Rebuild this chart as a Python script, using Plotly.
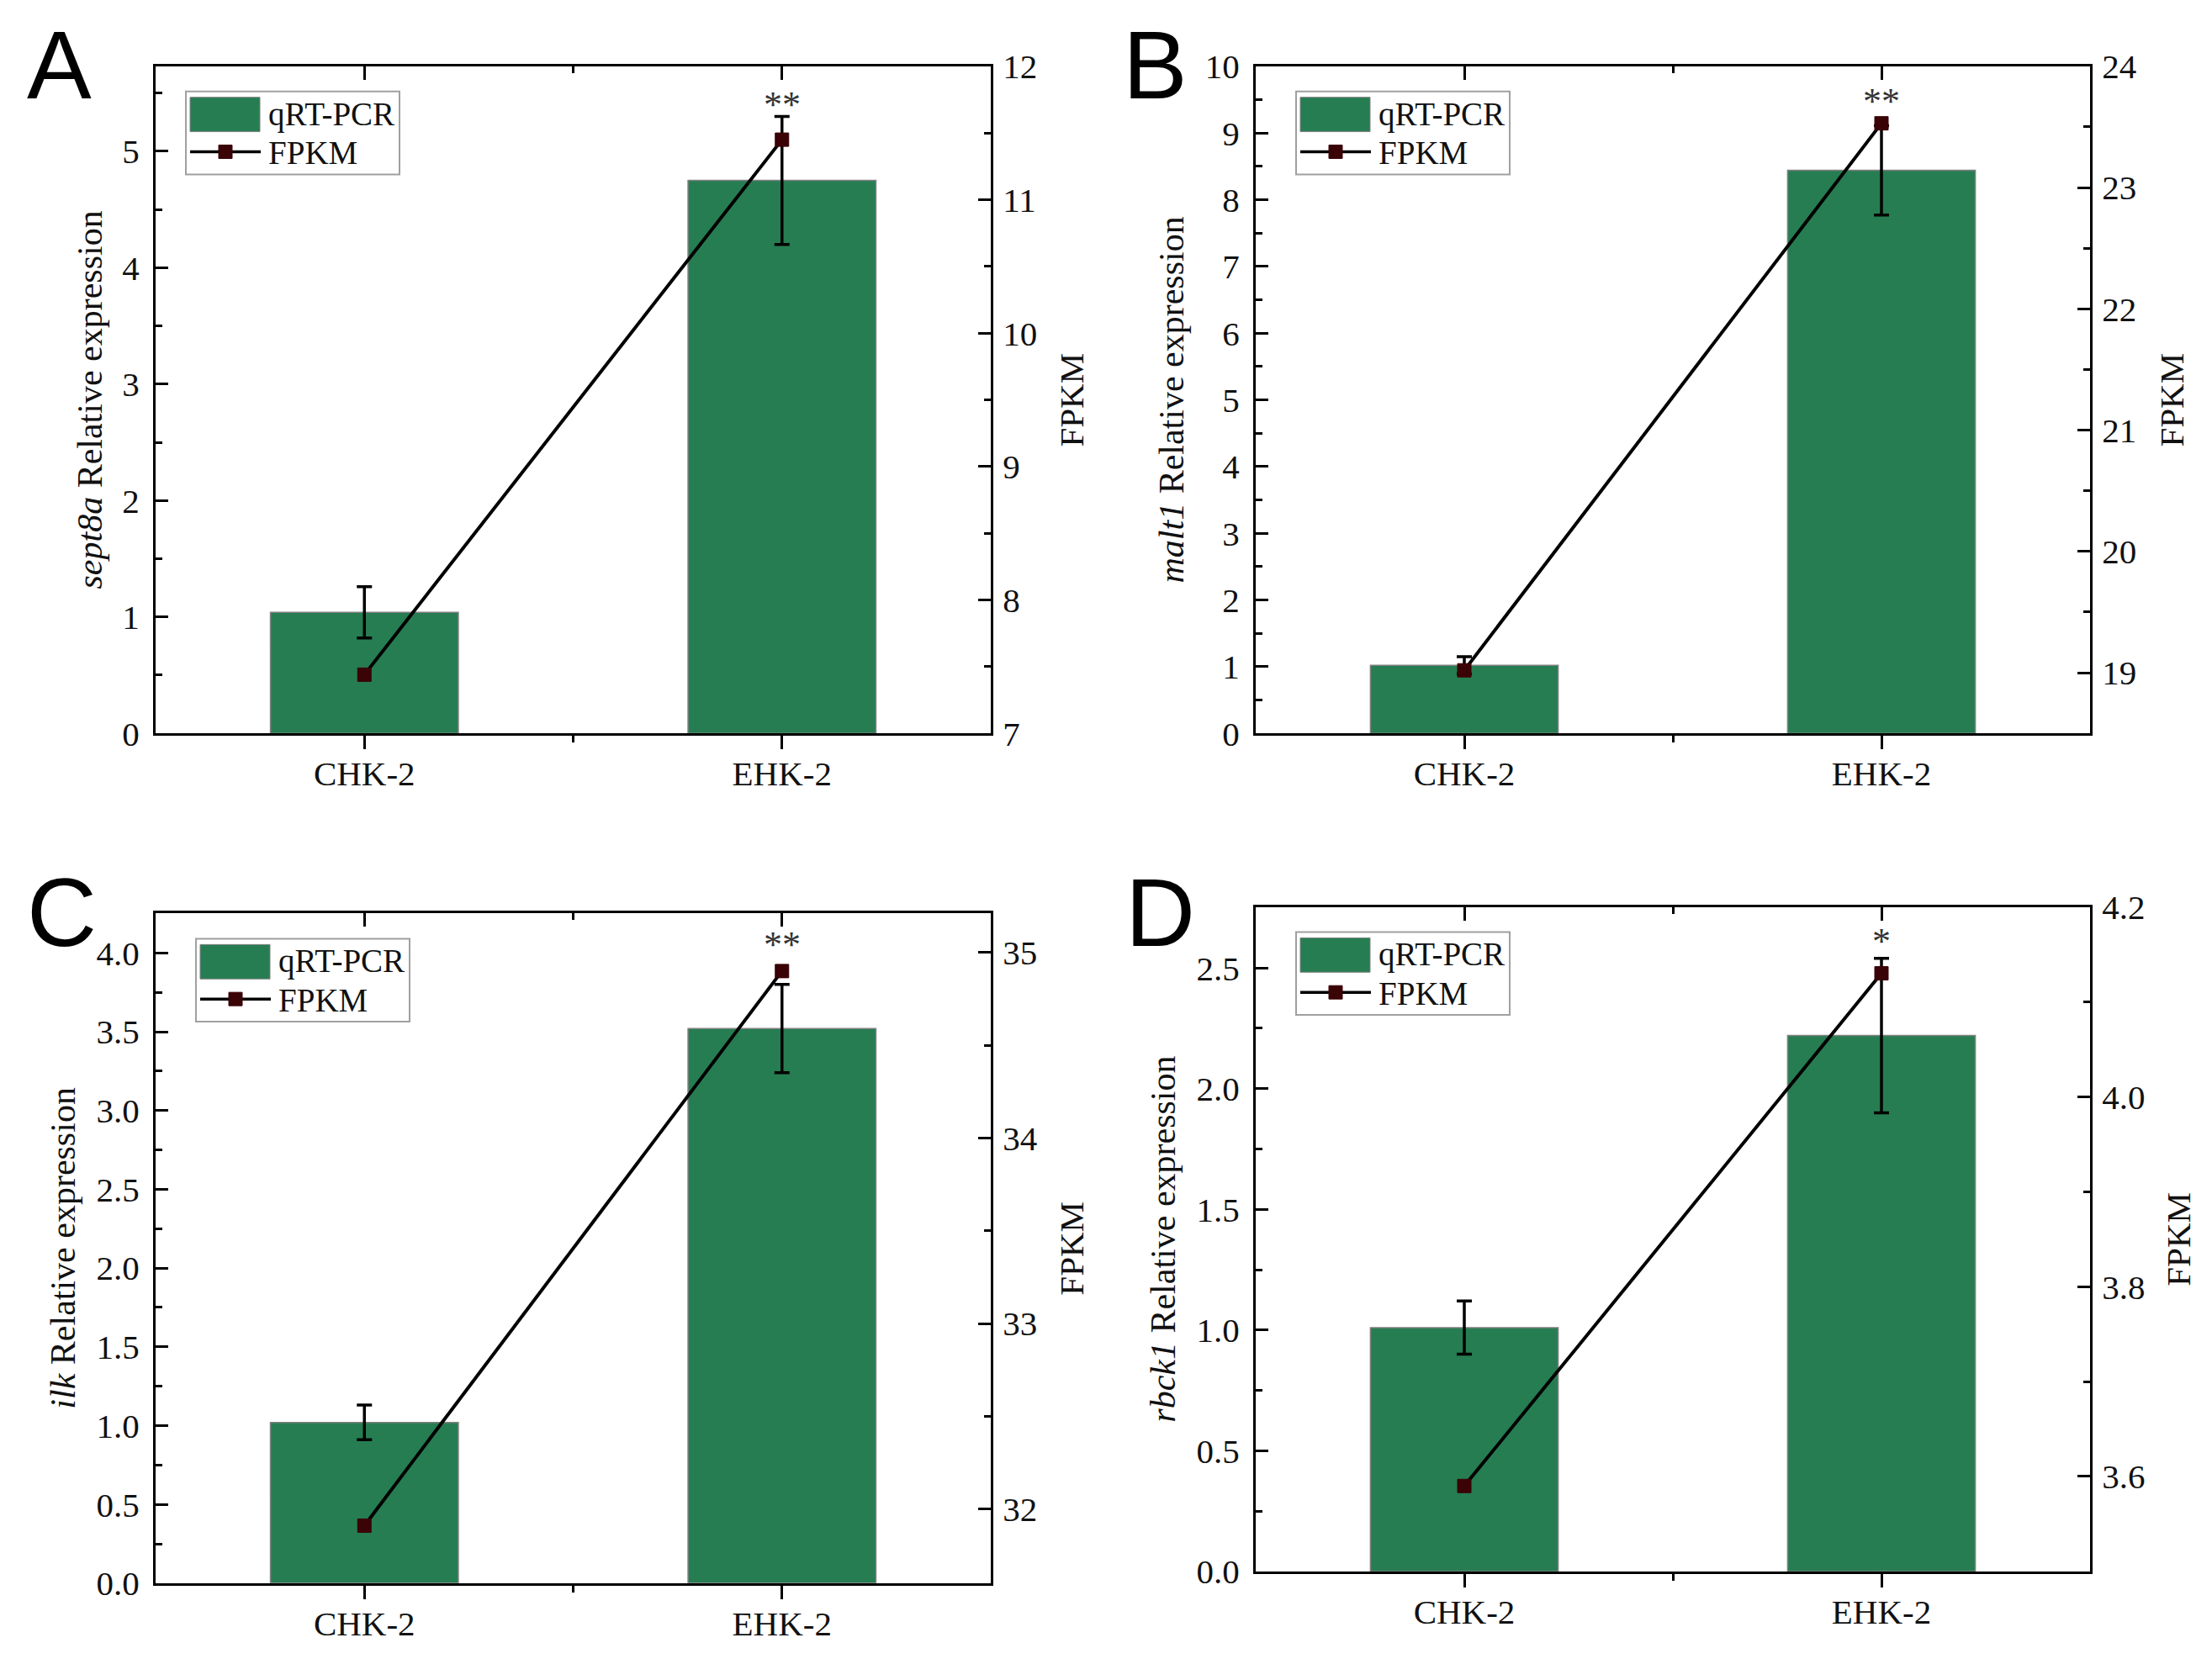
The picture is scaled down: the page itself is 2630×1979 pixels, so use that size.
import plotly.graph_objects as go

# Samples on the x axis
categories = ["CHK-2", "EHK-2"]

# Gene names used in the left axis titles
genes = ["sept8a", "malt1", "ilk", "rbck1"]

# qRT-PCR relative expression (bars) and their error bars
qpcr_a = [1.04, 4.75]
qpcr_a_err = [0.22, 0.55]
qpcr_b = [1.02, 8.44]
qpcr_b_err = [0.13, 0.67]
qpcr_c = [1.02, 3.52]
qpcr_c_err = [0.11, 0.28]
qpcr_d = [1.01, 2.22]
qpcr_d_err = [0.11, 0.32]

# FPKM values (line on the right axis)
fpkm_a = [7.44, 11.45]
fpkm_b = [19.02, 23.53]
fpkm_c = [31.91, 34.90]
fpkm_d = [3.59, 4.13]

# Significance marks above EHK-2 and their height on the left axis
signif = ["**", "**", "**", "*"]
signif_y = [5.42, 9.51, 4.07, 2.62]

panel_letters = ["A", "B", "C", "D"]

W, H = 2630, 1979
BAR_COLOR = "#267d52"
MARKER_COLOR = "#3a0306"
FONT = "Liberation Serif"


# pixel positions -> paper coordinates (small correction for the page offset)
def px_x(p):
    return (p - 6) / W


def px_y(p):
    return 1 - (p - 27) / 0.98 / H


# plot boxes in pixels: left, top, right, bottom
boxes = [(183, 75, 1176, 871), (1491, 75, 2483, 871),
         (183, 1086, 1176, 1885), (1491, 1078, 2483, 1871)]

# axis settings per panel
left_axes = [
    dict(range=[0, 5.73], dtick=1, minor=0.5, fmt=""),
    dict(range=[0, 10], dtick=1, minor=0.5, fmt=""),
    dict(range=[0, 4.25], dtick=0.5, minor=0.25, fmt=".1f"),
    dict(range=[0, 2.753], dtick=0.5, minor=0.25, fmt=".1f"),
]
right_axes = [
    dict(range=[7, 12], dtick=1, minor=0.5, fmt=""),
    dict(range=[18.5, 24], dtick=1, minor=0.5, fmt=""),
    dict(range=[31.6, 35.21], dtick=1, minor=0.5, fmt=""),
    dict(range=[3.5, 4.2], dtick=0.2, minor=0.1, fmt=".1f"),
]
left_title_x = [105, 1391, 73, 1381]
right_title_x = [1272, 2580, 1272, 2588]
letter_pos = [(28, 73), (1331, 73), (28, 1085), (1334, 1084)]
legend_offset = [36, 48, 48, 48]

qpcr = [qpcr_a, qpcr_b, qpcr_c, qpcr_d]
qpcr_err = [qpcr_a_err, qpcr_b_err, qpcr_c_err, qpcr_d_err]
fpkm = [fpkm_a, fpkm_b, fpkm_c, fpkm_d]

x_pos = list(range(len(categories)))
mid_pos = [(a + b) / 2 for a, b in zip(x_pos[:-1], x_pos[1:])]

fig = go.Figure()
layout = {}
annotations = []
shapes = []

axis_common = dict(
    showline=True, linecolor="black", linewidth=3,
    tickwidth=3, tickcolor="black", showgrid=False, zeroline=False,
    tickfont=dict(family=FONT, size=41, color="#111111"),
)

for i in range(4):
    k = i + 1
    L, T, R, B = boxes[i]
    xdom = [px_x(L), px_x(R)]
    ydom = [px_y(B), px_y(T)]

    # bars with error bars
    fig.add_trace(go.Bar(
        x=x_pos, y=qpcr[i], width=0.45,
        marker=dict(color=BAR_COLOR, line=dict(color="#808080", width=1.5)),
        error_y=dict(type="data", array=qpcr_err[i], color="black",
                     thickness=3.5, width=9),
        xaxis=f"x{k}", yaxis=f"y{k}", showlegend=False,
    ))
    # FPKM line
    fig.add_trace(go.Scatter(
        x=x_pos, y=fpkm[i], mode="lines+markers",
        line=dict(color="black", width=4),
        marker=dict(symbol="square", size=16, color=MARKER_COLOR,
                    line=dict(color=MARKER_COLOR, width=1)),
        xaxis=f"x{k}", yaxis=f"y{k + 4}", showlegend=False,
    ))
    # empty trace so the top axis is drawn
    fig.add_trace(go.Scatter(x=[], y=[], xaxis=f"x{k + 4}", yaxis=f"y{k}",
                             showlegend=False, hoverinfo="skip"))

    layout[f"xaxis{k}"] = dict(
        axis_common, domain=xdom, anchor=f"y{k}", range=[-0.5, 1.5],
        tickmode="array", tickvals=x_pos, ticktext=categories,
        ticks="outside", ticklen=16, ticklabelstandoff=-6,
        tickfont=dict(family=FONT, size=41, color="#111111"),
        minor=dict(tickmode="array", tickvals=mid_pos, ticks="outside",
                   ticklen=8, tickwidth=3, tickcolor="black"),
    )
    layout[f"xaxis{k + 4}"] = dict(
        axis_common, overlaying=f"x{k}", anchor=f"y{k}", side="top",
        range=[-0.5, 1.5], tickmode="array", tickvals=x_pos,
        ticks="inside", ticklen=16, showticklabels=False,
        minor=dict(tickmode="array", tickvals=mid_pos, ticks="inside",
                   ticklen=8, tickwidth=3, tickcolor="black"),
    )
    la = left_axes[i]
    layout[f"yaxis{k}"] = dict(
        axis_common, domain=ydom, anchor=f"x{k}", range=la["range"],
        tick0=0, dtick=la["dtick"], tickformat=la["fmt"],
        ticks="inside", ticklen=15, ticklabelstandoff=8,
        minor=dict(dtick=la["minor"], ticks="inside", ticklen=8,
                   tickwidth=3, tickcolor="black"),
    )
    ra = right_axes[i]
    layout[f"yaxis{k + 4}"] = dict(
        axis_common, overlaying=f"y{k}", anchor=f"x{k}", side="right",
        range=ra["range"], tick0=0, dtick=ra["dtick"], tickformat=ra["fmt"],
        ticks="inside", ticklen=15, ticklabelstandoff=3,
        minor=dict(dtick=ra["minor"], ticks="inside", ticklen=8,
                   tickwidth=3, tickcolor="black"),
    )

    # significance mark
    annotations.append(dict(
        x=x_pos[-1], y=signif_y[i], xref=f"x{k}", yref=f"y{k}",
        text=signif[i], showarrow=False, yshift=-3,
        font=dict(family=FONT, size=44, color="#333333"),
    ))

    # axis titles
    cy = px_y((T + B) / 2)
    annotations.append(dict(
        x=px_x(left_title_x[i]), y=cy, xref="paper", yref="paper",
        text=f"<i>{genes[i]}</i> Relative expression", textangle=-90,
        showarrow=False, xanchor="center", yanchor="middle",
        font=dict(family=FONT, size=42, color="#111111"),
    ))
    annotations.append(dict(
        x=px_x(right_title_x[i]), y=cy, xref="paper", yref="paper",
        text="FPKM", textangle=-90,
        showarrow=False, xanchor="center", yanchor="middle",
        font=dict(family=FONT, size=41, color="#111111"),
    ))

    # panel letter
    lx, ly = letter_pos[i]
    annotations.append(dict(
        x=px_x(lx), y=px_y(ly), xref="paper", yref="paper",
        text=panel_letters[i], showarrow=False,
        xanchor="left", yanchor="middle",
        font=dict(family="Liberation Sans", size=115, color="black"),
    ))

    # legend box drawn by hand
    gl = L + legend_offset[i]
    gt = T + 30
    shapes.append(dict(type="rect", xref="paper", yref="paper",
                       x0=px_x(gl), x1=px_x(gl + 254),
                       y0=px_y(gt + 99), y1=px_y(gt),
                       line=dict(color="#a0a0a0", width=2),
                       fillcolor="white"))
    shapes.append(dict(type="rect", xref="paper", yref="paper",
                       x0=px_x(gl + 5), x1=px_x(gl + 88),
                       y0=px_y(gt + 48), y1=px_y(gt + 7),
                       line=dict(color="#808080", width=1),
                       fillcolor=BAR_COLOR))
    shapes.append(dict(type="line", xref="paper", yref="paper",
                       x0=px_x(gl + 5), x1=px_x(gl + 89),
                       y0=px_y(gt + 72), y1=px_y(gt + 72),
                       line=dict(color="black", width=3.5)))
    shapes.append(dict(type="rect", xref="paper", yref="paper",
                       x0=px_x(gl + 39), x1=px_x(gl + 55),
                       y0=px_y(gt + 80), y1=px_y(gt + 64),
                       line=dict(color=MARKER_COLOR, width=1),
                       fillcolor=MARKER_COLOR))
    for label, dy in [("qRT-PCR", 27), ("FPKM", 73)]:
        annotations.append(dict(
            x=px_x(gl + 96), y=px_y(gt + dy), xref="paper", yref="paper",
            text=label, showarrow=False, xanchor="left", yanchor="middle",
            font=dict(family=FONT, size=39, color="#111111"),
        ))

fig.update_layout(
    width=W, height=H,
    margin=dict(l=0, r=0, t=0, b=0),
    paper_bgcolor="white", plot_bgcolor="white",
    annotations=annotations, shapes=shapes,
    **layout,
)

fig.write_html("out.html")
